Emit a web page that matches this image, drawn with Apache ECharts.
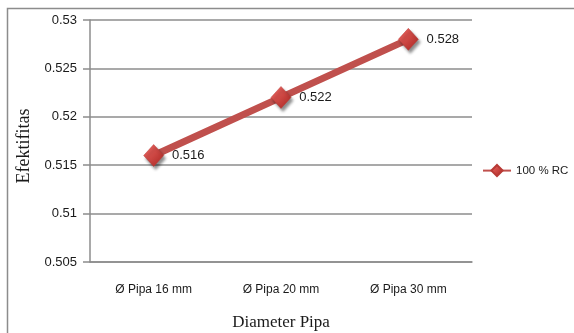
<!DOCTYPE html>
<html>
<head>
<meta charset="utf-8">
<script src="https://cdn.jsdelivr.net/npm/echarts@6/dist/echarts.min.js"></script>
<style>
  html, body { margin: 0; padding: 0; background: #ffffff; }
  #chart { width: 574px; height: 333px; }
</style>
</head>
<body>
<div id="chart"></div>
<script>
// Pipe diameter categories and measured effectiveness
const categories = ['Ø Pipa 16 mm', 'Ø Pipa 20 mm', 'Ø Pipa 30 mm'];
const efektifitas = [0.516, 0.522, 0.528];
const seriesName = '100 % RC';
const yMin = 0.505;
const yMax = 0.53;
const yStep = 0.005;

const labelFont = 'Liberation Sans';
const titleFont = 'Liberation Serif';
const red = '#c0504d';

const chart = echarts.init(document.getElementById('chart'), null, { renderer: 'canvas' });

chart.setOption({
  backgroundColor: '#ffffff',
  animation: false,
  graphic: [{
    type: 'rect',
    shape: { x: 7.5, y: 8.5, width: 600, height: 400 },
    style: { fill: 'none', stroke: '#8c8c8c', lineWidth: 1.5 },
    silent: true,
    z: -1
  }],
  grid: {
    left: 90, top: 20, right: 102, bottom: 71,
    containLabel: false,
    outerBoundsMode: 'none'
  },
  legend: {
    data: [seriesName],
    orient: 'vertical',
    left: 482,
    top: 164,
    padding: 0,
    itemWidth: 28,
    itemHeight: 14,
    itemGap: 4,
    textStyle: { fontFamily: labelFont, fontSize: 11.5, color: '#1a1a1a' }
  },
  xAxis: {
    type: 'category',
    data: categories,
    boundaryGap: true,
    name: 'Diameter Pipa',
    nameLocation: 'middle',
    nameGap: 52,
    nameTextStyle: { fontFamily: titleFont, fontSize: 17, color: '#1a1a1a' },
    axisLine: { lineStyle: { color: '#8c8c8c', width: 1.5 } },
    axisTick: { show: false },
    axisLabel: { margin: 22, fontFamily: labelFont, fontSize: 12, color: '#1a1a1a' }
  },
  yAxis: {
    type: 'value',
    min: yMin,
    max: yMax,
    interval: yStep,
    name: 'Efektifitas',
    nameLocation: 'middle',
    nameGap: 53,
    nameRotate: 90,
    nameTextStyle: {
      fontFamily: titleFont, fontSize: 18, color: '#1a1a1a',
      padding: [0, 10, 0, 0]
    },
    axisLine: { show: true, lineStyle: { color: '#8c8c8c', width: 1.5 } },
    axisTick: { show: true, length: 7, lineStyle: { color: '#8c8c8c', width: 1.5 } },
    splitLine: { lineStyle: { color: '#8c8c8c', width: 1.5 } },
    axisLabel: {
      margin: 13,
      fontFamily: labelFont,
      fontSize: 13,
      color: '#1a1a1a',
      formatter: v => String(+v.toFixed(3))
    }
  },
  series: [{
    name: seriesName,
    type: 'line',
    data: efektifitas,
    symbol: 'diamond',
    symbolSize: [20, 22],
    lineStyle: { color: red, width: 7 },
    itemStyle: {
      color: new echarts.graphic.LinearGradient(0, 0, 1, 1, [
        { offset: 0, color: '#f06a66' },
        { offset: 1, color: '#a8231f' }
      ]),
      borderColor: '#b83a36',
      borderWidth: 0.5,
      shadowColor: 'rgba(0,0,0,0.45)',
      shadowBlur: 3,
      shadowOffsetX: 2,
      shadowOffsetY: 3
    },
    label: {
      show: true,
      position: 'right',
      distance: 8,
      fontFamily: labelFont,
      fontSize: 13,
      color: '#1a1a1a',
      formatter: p => p.value.toFixed(3)
    }
  }]
});
</script>
</body>
</html>
